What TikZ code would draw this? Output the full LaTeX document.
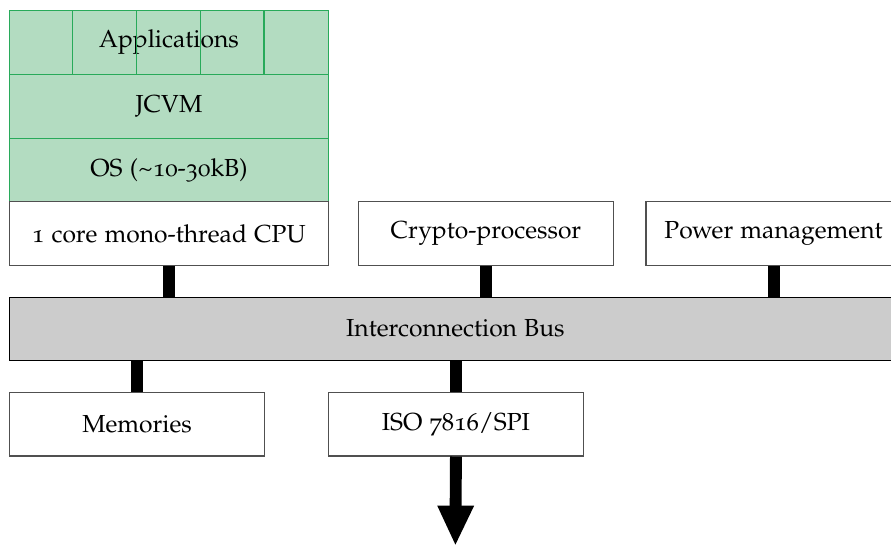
\documentclass[tikz,border=0pt]{standalone}
\usepackage[T1]{fontenc}
\usepackage[osf]{mathpazo}
\usetikzlibrary{arrows.meta}
\definecolor{stackfill}{RGB}{179,220,193}
\definecolor{stackline}{RGB}{40,170,90}
\definecolor{busfill}{RGB}{204,204,204}
\definecolor{boxline}{RGB}{80,80,80}
\tikzset{
  blk/.style={draw=boxline, line width=0.5pt, fill=white, minimum height=1cm, inner sep=0pt, anchor=north west, font=\fontsize{11}{13}\selectfont},
  stk/.style={blk, draw=stackline, fill=stackfill, minimum width=5cm},
  conn/.style={line width=5.3pt, draw=black},
}
\begin{document}
\begin{tikzpicture}
\useasboundingbox (0,0) rectangle (13.97,-8.56);
\clip (0,0) rectangle (13.97,-8.56);
% software stack
\node[stk] (app) at (0.14,-0.157) {Applications};
\foreach \i in {1,2,3,4}
  \draw[stackline, line width=0.5pt] ([xshift=\i cm]app.north west) -- ([xshift=\i cm]app.south west);
\node[stk] (jcvm) at (0.14,-1.157) {JCVM};
\node[stk] (os) at (0.14,-2.157) {OS (\textasciitilde 10-30kB)};
% hardware
\node[blk, minimum width=5cm] (cpu) at (0.14,-3.157) {1 core mono-thread CPU};
\node[blk, minimum width=4cm] (crypto) at (5.61,-3.157) {Crypto-processor};
\node[blk, minimum width=4cm] (power) at (10.12,-3.157) {Power management};
\node[blk, fill=busfill, draw=black, minimum width=14.5cm] (bus) at (0.14,-4.65) {};
\node[font=\fontsize{11}{13}\selectfont] (buslabel) at (7.14,-5.15) {Interconnection Bus};
\node[blk, minimum width=4cm] (mem) at (0.14,-6.14) {Memories};
\node[blk, minimum width=4cm] (iso) at (5.14,-6.14) {ISO 7816/SPI};
\coordinate (out) at (7.14,-8.56);
% connectors
\draw[conn] (cpu.south) -- (cpu.south |- bus.north);
\draw[conn] (crypto.south) -- (crypto.south |- bus.north);
\draw[conn] (power.south) -- (power.south |- bus.north);
\draw[conn] (mem.north) -- (mem.north |- bus.south);
\draw[conn] (iso.north) -- (iso.north |- bus.south);
\draw[conn, -{Triangle[width=15pt, length=18pt]}] (iso.south) -- (out);
\end{tikzpicture}
\end{document}
